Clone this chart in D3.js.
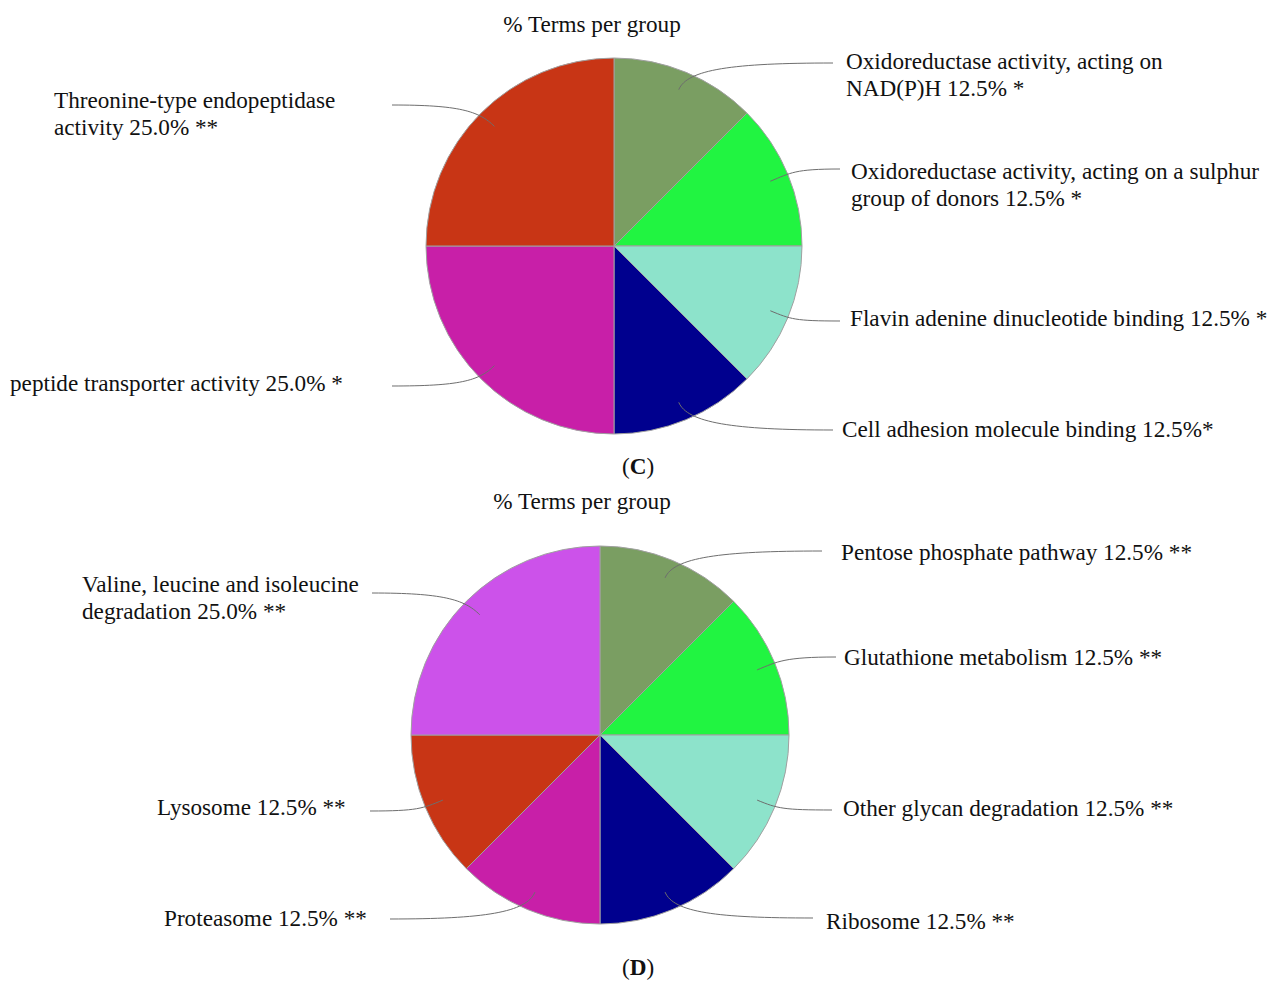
<!DOCTYPE html>
<html>
<head>
<meta charset="utf-8">
<script src="https://cdn.jsdelivr.net/npm/d3@7"></script>
<style>
  html, body { margin: 0; padding: 0; background: #fff; }
  svg { display: block; }
  text { font-family: "Liberation Serif", "Times New Roman", serif; fill: #111; }
</style>
</head>
<body>
<svg id="chart" width="1277" height="981"></svg>
<script>
// ---- Panel C: GO molecular function terms ----
const termsC = [
  "Oxidoreductase activity, acting on\nNAD(P)H",
  "Oxidoreductase activity, acting on a sulphur\ngroup of donors",
  "Flavin adenine dinucleotide binding",
  "Cell adhesion molecule binding",
  "peptide transporter activity",
  "Threonine-type endopeptidase\nactivity"
];
const valuesC = [12.5, 12.5, 12.5, 12.5, 25.0, 25.0];
const starsC = [" *", " *", " *", "*", " *", " **"];

// ---- Panel D: KEGG pathways ----
const termsD = [
  "Pentose phosphate pathway",
  "Glutathione metabolism",
  "Other glycan degradation",
  "Ribosome",
  "Proteasome",
  "Lysosome",
  "Valine, leucine and isoleucine\ndegradation"
];
const valuesD = [12.5, 12.5, 12.5, 12.5, 12.5, 12.5, 25.0];
const starsD = [" **", " **", " **", " **", " **", " **", " **"];

const colorsC = ["#7a9e62", "#21f441", "#8de3cb", "#00008e", "#c81fa8", "#c83515"];
const colorsD = ["#7a9e62", "#21f441", "#8de3cb", "#00008e", "#c81fa8", "#c83515", "#cc52ea"];

const titleText = "% Terms per group";

// label placement: text anchor (tx, ty) and where the leader line ends (lx, ly)
const layoutC = [
  { tx: 846, ty: 61,  lx: 833, ly: 63 },
  { tx: 851, ty: 171, lx: 840, ly: 169 },
  { tx: 850, ty: 318, lx: 840, ly: 321 },
  { tx: 842, ty: 429, lx: 833, ly: 430 },
  { tx: 10,  ty: 383, lx: 392, ly: 386 },
  { tx: 54,  ty: 100, lx: 392, ly: 105 }
];
const layoutD = [
  { tx: 841, ty: 552, lx: 822, ly: 551 },
  { tx: 844, ty: 657, lx: 836, ly: 657 },
  { tx: 843, ty: 808, lx: 832, ly: 810 },
  { tx: 826, ty: 921, lx: 813, ly: 918 },
  { tx: 164, ty: 918, lx: 390, ly: 919 },
  { tx: 157, ty: 807, lx: 370, ly: 811 },
  { tx: 82,  ty: 584, lx: 372, ly: 593 }
];

const svg = d3.select("#chart");
const FONT = 23.2;
const LINE_H = 27;

function drawPanel(opts) {
  const { cx, cy, r, terms, values, stars, colors, layout, title, titleX, titleY, letter, letterX, letterY } = opts;

  const g = svg.append("g").attr("transform", `translate(${cx},${cy})`);

  const pie = d3.pie().sort(null).value(d => d)
    .startAngle(0).endAngle(2 * Math.PI);
  const arcs = pie(values);
  const arc = d3.arc().innerRadius(0).outerRadius(r);
  const inner = d3.arc().innerRadius(r * 0.9).outerRadius(r * 0.9);

  g.selectAll("path.slice")
    .data(arcs)
    .enter().append("path")
    .attr("class", "slice")
    .attr("d", arc)
    .attr("fill", (d, i) => colors[i])
    .attr("stroke", "#a0a0a0")
    .attr("stroke-width", 1);

  // leader lines: leave the slice radially, then ease into a horizontal run
  arcs.forEach((d, i) => {
    const L = layout[i];
    const mid = (d.startAngle + d.endAngle) / 2;
    const [sx0, sy0] = inner.centroid(d);
    const sx = sx0 + cx, sy = sy0 + cy;
    const ex = L.lx, ey = L.ly;
    const dirx = Math.sin(mid), diry = -Math.cos(mid);
    const p1x = sx + dirx * 22, p1y = sy + diry * 22;
    const p2x = sx + (ex - sx) * 0.35, p2y = ey;
    const path = d3.path();
    path.moveTo(sx, sy);
    path.bezierCurveTo(p1x, p1y, p2x, p2y, ex, ey);
    svg.append("path")
      .attr("d", path.toString())
      .attr("fill", "none")
      .attr("stroke", "#6e6e6e")
      .attr("stroke-width", 1);

    const pct = d3.format(".1f")(values[i]) + "%";
    const lines = (terms[i] + " " + pct + stars[i]).split("\n");
    const t = svg.append("text")
      .attr("x", L.tx)
      .attr("y", L.ty)
      .attr("font-size", FONT)
      .attr("dominant-baseline", "central");
    lines.forEach((ln, k) => {
      t.append("tspan")
        .attr("x", L.tx)
        .attr("dy", k === 0 ? 0 : LINE_H)
        .text(ln);
    });
  });

  svg.append("text")
    .attr("x", titleX).attr("y", titleY)
    .attr("text-anchor", "middle")
    .attr("dominant-baseline", "central")
    .attr("font-size", FONT)
    .text(title);

  const lt = svg.append("text")
    .attr("x", letterX).attr("y", letterY)
    .attr("text-anchor", "middle")
    .attr("dominant-baseline", "central")
    .attr("font-size", FONT);
  lt.append("tspan").text("(");
  lt.append("tspan").attr("font-weight", "bold").text(letter);
  lt.append("tspan").text(")");
}

drawPanel({
  cx: 614, cy: 246, r: 188,
  terms: termsC, values: valuesC, stars: starsC, colors: colorsC, layout: layoutC,
  title: titleText, titleX: 592, titleY: 24,
  letter: "C", letterX: 638, letterY: 466
});

drawPanel({
  cx: 600, cy: 735, r: 189,
  terms: termsD, values: valuesD, stars: starsD, colors: colorsD, layout: layoutD,
  title: titleText, titleX: 582, titleY: 501,
  letter: "D", letterX: 638, letterY: 967
});
</script>
</body>
</html>
